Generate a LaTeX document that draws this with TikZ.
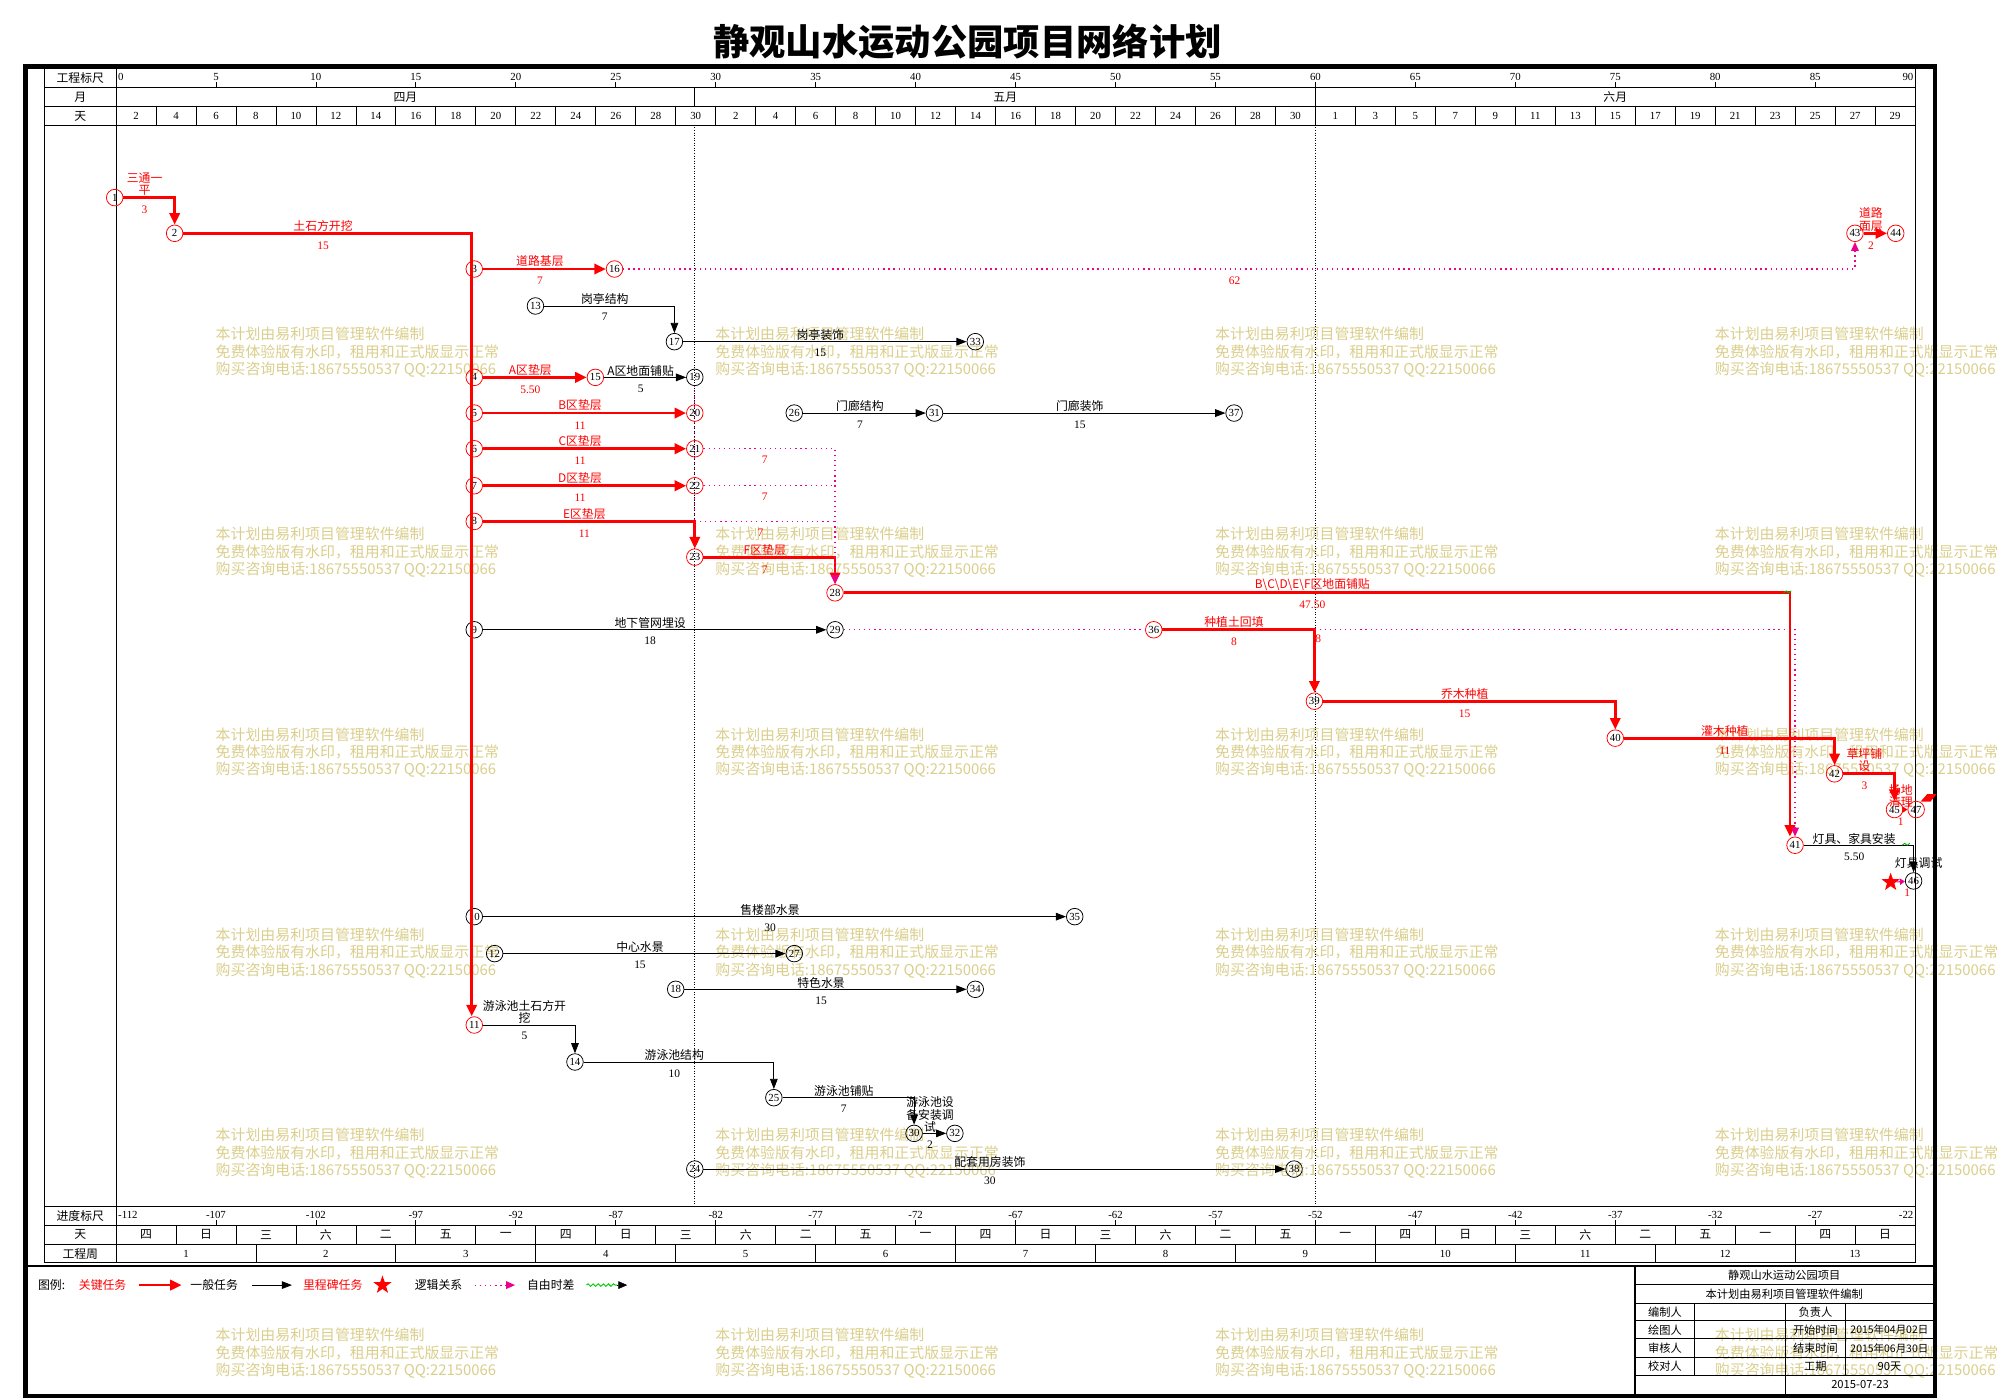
\documentclass[tikz,border=0pt]{standalone}
\usepackage{fontspec}
\setmainfont{Liberation Serif}
\newfontfamily\cjk{Noto Sans CJK SC}
\usetikzlibrary{arrows.meta,shapes.geometric,decorations.pathmorphing}
\definecolor{wmark}{RGB}{218,206,140}

\begin{document}
\begin{tikzpicture}[x=1pt, y=-1pt,
  ev/.style={circle, draw, line width=0.6pt, minimum size=13pt, inner sep=0pt, text=black, font=\fontsize{8.5}{8.5}\selectfont},
  evr/.style={ev, draw=red},
  crit/.style={red, line width=2.2pt, -{Triangle[length=9pt,width=8pt]}},
  gen/.style={black, line width=0.7pt, -{Triangle[length=8pt,width=6pt]}},
  lnk/.style={magenta, line width=0.9pt, dash pattern=on 1pt off 3pt},
  lnkt/.style={lnk, -{Triangle[length=7pt,width=6pt]}},
  lab/.style={above=0.5pt, xshift=-3.5pt, inner sep=0pt, align=center, font=\cjk\fontsize{9.3}{9.6}\selectfont},
  dur/.style={below=5.5pt, xshift=-3.5pt, inner sep=0pt, font=\fontsize{9}{9}\selectfont},
  hd/.style={inner sep=0pt, font=\cjk\fontsize{9.3}{9.3}\selectfont},
  sc/.style={inner sep=0pt, font=\fontsize{8.5}{8.5}\selectfont},
  tb/.style={inner sep=0pt, font=\cjk\fontsize{8.8}{8.8}\selectfont},
  wm/.style={anchor=west, inner sep=0pt, text=wmark, font=\cjk\fontsize{11.7}{11.7}\selectfont},
  mstone/.style={star, star points=5, star point ratio=2.5, fill=red, minimum size=15pt, inner sep=0pt}]

\useasboundingbox (0,0) rectangle (1568,1098);

\foreach \wx in {169,561,953,1345}
  \foreach \wy in {262,419,576,733,890,1047} {
    \node[wm] at (\wx,\wy) {本计划由易利项目管理软件编制};
    \node[wm] at (\wx,\wy+14) {免费体验版有水印，租用和正式版显示正常};
    \node[wm] at (\wx,\wy+28) {购买咨询电话:18675550537 QQ:22150066};
  }

\node[font=\cjk\bfseries\fontsize{28.5}{28.5}\selectfont, inner sep=0pt] (title) at (759,33) {静观山水运动公园项目网络计划};

\draw[line width=3.5pt] (20,52) rectangle (1517.6,1095);
\draw[line width=2.2pt] (20,993) -- (1517.6,993);
\draw[line width=0.6pt] (35,53) -- (35,990.5) (91,53) -- (91,990.5) (1502,53) -- (1502,990.5);
\foreach \y in {68.5,83.5,98,946,961,976,990.5}
  \draw[line width=0.6pt] (35,\y) -- (1502,\y);

\node[hd] (h1) at (63,61) {工程标尺};
\node[hd] (h2) at (63,76) {月};
\node[hd] (h3) at (63,91) {天};
\node[hd] (h4) at (63,953.5) {进度标尺};
\node[hd] (h5) at (63,968.5) {天};
\node[hd] (h6) at (63,983.5) {工程周};

\foreach \k in {0,...,18} {
  \draw[line width=0.6pt] ({91+78.4*\k},68.5) -- ({91+78.4*\k},64.5);
  \draw[line width=0.6pt] ({91+78.4*\k},961) -- ({91+78.4*\k},957);
}
\foreach \k in {1,...,17} {
  \pgfmathtruncatemacro\nn{5*\k}
  \pgfmathtruncatemacro\mm{5*\k-112}
  \node[sc] at ({91+78.4*\k},60.5) {\nn};
  \node[sc] at ({91+78.4*\k},953) {\mm};
}
\node[sc, anchor=west] at (92.5,60.5) {0};
\node[sc, anchor=east] at (1501,60.5) {90};
\node[sc, anchor=west] at (92.5,953) {-112};
\node[sc, anchor=east] at (1501,953) {-22};

\draw[line width=0.6pt] (545,68.5) -- (545,83.5) (1032,68.5) -- (1032,83.5);
\node[hd] (m4) at (318,76) {四月};
\node[hd] (m5) at (788.5,76) {五月};
\node[hd] (m6) at (1267,76) {六月};
\draw[line width=0.6pt, dash pattern=on 0.6pt off 1.4pt] (545,98) -- (545,946) (1032,98) -- (1032,946);

\foreach \j in {1,...,44}
  \draw[line width=0.6pt] ({91+31.36*\j},83.5) -- ({91+31.36*\j},98);
\foreach \j in {0,...,44} {
  \pgfmathtruncatemacro\dd{\j<15 ? 2*\j+2 : (\j<30 ? 2*\j-28 : 2*\j-59)}
  \node[sc] at ({106.68+31.36*\j},91) {\dd};
}

\foreach \j in {1,...,29}
  \draw[line width=0.6pt] ({91+47.04*\j},961) -- ({91+47.04*\j},976);
\foreach \w [count=\j from 0] in {四,日,三,六,二,五,一,四,日,三,六,二,五,一,四,日,三,六,二,五,一,四,日,三,六,二,五,一,四,日}
  \node[hd] at ({114.52+47.04*\j},968.5) {\w};
\foreach \j in {1,...,12} {
  \draw[line width=0.6pt] ({91+109.76*\j},976) -- ({91+109.76*\j},990.5);
  \node[sc] at ({36.12+109.76*\j},983.5) {\j};
}
\node[sc] at (1455,983.5) {13};

\node[evr] (n1) at (90,155) {1};
\node[evr] (n2) at (137,183) {2};
\node[evr] (n3) at (372,211) {3};
\node[evr] (n16) at (482,211) {16};
\node[evr] (n43) at (1455,183) {43};
\node[evr] (n44) at (1487,183) {44};
\node[ev] (n13) at (420,240) {13};
\node[ev] (n17) at (529,268) {17};
\node[ev] (n33) at (765,268) {33};
\node[evr] (n4) at (372,296) {4};
\node[evr] (n15) at (467,296) {15};
\node[ev] (n19) at (545,296) {19};
\node[evr] (n5) at (372,324) {5};
\node[evr] (n20) at (545,324) {20};
\node[ev] (n26) at (623,324) {26};
\node[ev] (n31) at (733,324) {31};
\node[ev] (n37) at (968,324) {37};
\node[evr] (n6) at (372,352) {6};
\node[evr] (n21) at (545,352) {21};
\node[evr] (n7) at (372,381) {7};
\node[evr] (n22) at (545,381) {22};
\node[evr] (n8) at (372,409) {8};
\node[evr] (n23) at (545,437) {23};
\node[evr] (n28) at (655,465) {28};
\node[ev] (n9) at (372,494) {9};
\node[ev] (n29) at (655,494) {29};
\node[evr] (n36) at (905,494) {36};
\node[evr] (n39) at (1031,550) {39};
\node[evr] (n40) at (1267,579) {40};
\node[evr] (n42) at (1439,607) {42};
\node[evr] (n45) at (1486,635) {45};
\node[evr] (n47) at (1503,635) {47};
\node[evr] (n41) at (1408,663) {41};
\node[ev] (n46) at (1501,691) {46};
\node[ev] (n10) at (372,719) {10};
\node[ev] (n35) at (843,719) {35};
\node[ev] (n12) at (388,748) {12};
\node[ev] (n27) at (623,748) {27};
\node[ev] (n18) at (530,776) {18};
\node[ev] (n34) at (765,776) {34};
\node[evr] (n11) at (372,804) {11};
\node[ev] (n14) at (451,833) {14};
\node[ev] (n25) at (607,861) {25};
\node[ev] (n30) at (717,889) {30};
\node[ev] (n32) at (749,889) {32};
\node[ev] (n24) at (545,917) {24};
\node[ev] (n38) at (1015,917) {38};

\coordinate (k2) at (370,183);
\coordinate (k28) at (1404,465);

\draw[crit] (n1) -- node[lab]{三通一\\平} node[dur]{3} (n1 -| n2) -- (n2);
\draw[crit] (n2) -- node[lab]{土石方开挖} node[dur]{15} (k2) -- (k2 |- n11.north);
\draw[crit] (n3) -- node[lab]{道路基层} node[dur]{7} (n16);
\draw[crit] (n43) -- node[lab]{道路\\面层} node[dur]{2} (n44);
\draw[crit] (n4) -- node[lab]{A区垫层} node[dur]{5.50} (n15);
\draw[crit] (n5) -- node[lab]{B区垫层} node[dur]{11} (n20);
\draw[crit] (n6) -- node[lab]{C区垫层} node[dur]{11} (n21);
\draw[crit] (n7) -- node[lab]{D区垫层} node[dur]{11} (n22);
\draw[crit] (n8) -- node[lab]{E区垫层} node[dur]{11} (n8 -| n23) -- (n23);
\draw[crit] (n23) -- node[lab]{F区垫层} node[dur]{7} (n23 -| n28) -- (n28);
\draw[crit] (n28) -- node[lab]{B\textbackslash C\textbackslash D\textbackslash E\textbackslash F区地面铺贴} node[dur]{47.50} (k28) -- (k28 |- n41.north);
\draw[crit] (n36) -- node[lab]{种植土回填} node[dur]{8} (n36 -| n39) -- (n39);
\draw[crit] (n39) -- node[lab]{乔木种植} node[dur]{15} (n39 -| n40) -- (n40);
\draw[crit] (n40) -- node[lab]{灌木种植} node[dur]{11} (n40 -| n42) -- (n42);
\draw[crit] (n42) -- node[lab]{草坪铺\\设} node[dur]{3} (n42 -| n45) -- (n45);
\draw[crit, -{Triangle[length=4pt,width=5pt]}] (n45) -- node[lab]{场地\\清理} node[dur]{1} (n47);

\draw[gen] (n13) -- node[lab]{岗亭结构} node[dur]{7} (n13 -| n17) -- (n17);
\draw[gen] (n17) -- node[lab]{岗亭装饰} node[dur]{15} (n33);
\draw[gen] (n15) -- node[lab]{A区地面铺贴} node[dur]{5} (n19);
\draw[gen] (n26) -- node[lab]{门廊结构} node[dur]{7} (n31);
\draw[gen] (n31) -- node[lab]{门廊装饰} node[dur]{15} (n37);
\draw[gen] (n9) -- node[lab]{地下管网埋设} node[dur]{18} (n29);
\draw[gen] (n41) -- node[lab]{灯具、家具安装} node[dur]{5.50} (n41 -| n46) -- (n46);
\draw[gen] (n10) -- node[lab]{售楼部水景} node[dur]{30} (n35);
\draw[gen] (n12) -- node[lab]{中心水景} node[dur]{15} (n27);
\draw[gen] (n18) -- node[lab]{特色水景} node[dur]{15} (n34);
\draw[gen] (n11) -- node[lab]{游泳池土石方开\\挖} node[dur]{5} (n11 -| n14) -- (n14);
\draw[gen] (n14) -- node[lab]{游泳池结构} node[dur]{10} (n14 -| n25) -- (n25);
\draw[gen] (n25) -- node[lab]{游泳池铺贴} node[dur]{7} (n25 -| n30) -- (n30);
\draw[gen] (n30) -- node[lab]{游泳池设\\备安装调\\试} node[dur]{2} (n32);
\draw[gen] (n24) -- node[lab]{配套用房装饰} node[dur]{30} (n38);

\draw[lnkt] (n16) -- node[dur, text=red]{62} (n16 -| n43) -- (n43);
\draw[lnk] (n19) -- (n23);
\draw[lnkt] (n21) -- node[dur, text=red]{7} (n21 -| n28) -- (n28);
\draw[lnk] (n22) -- node[dur, text=red]{7} (n22 -| n28);
\draw[lnk] (n8 -| n23) -- node[dur, text=red]{7} (n8 -| n28);
\draw[lnk] (n29) -- (n36);
\draw[lnkt] (n36 -| n39) -- (n36 -| n41) -- (n41);
\node[sc, text=red, font=\fontsize{9}{9}\selectfont] (f8) at (1034,501) {8};

\node[mstone] (ms) at (1483,692) {};
\draw[magenta, line width=0.8pt, -{Triangle[length=4pt,width=5pt]}] (ms) -- (n46);
\node[hd] (t46) at (1505,677) {灯具调试};
\node[sc, text=red, font=\fontsize{9}{9}\selectfont] (d46) at (1496,700) {1};
\fill[red] (1506.5,628.7) -- (1511.7,622.9) -- (1519,622.9) -- (1514.3,628.7) -- cycle;
\draw[green!70!black, line width=0.7pt] (1399,465) -- (1401,463.5) -- (1403,465) -- (1405,463.5);
\draw[green!70!black, line width=0.7pt] (1492,663) -- (1494,661.5) -- (1496,663) -- (1498,661.5);

\node[hd] (lg0) at (40.5,1008) {图例:};
\node[hd, text=red] (lg1) at (80.5,1008) {关键任务};
\draw[crit] (109,1008) -- (142.5,1008);
\node[hd] (lg2) at (168,1008) {一般任务};
\draw[gen] (197.5,1008) -- (229,1008);
\node[hd, text=red] (lg3) at (261,1008) {里程碑任务};
\node[mstone] (lg4) at (300,1008) {};
\node[hd] (lg5) at (344,1008) {逻辑关系};
\draw[lnkt] (372.5,1008) -- (404,1008);
\node[hd] (lg6) at (432,1008) {自由时差};
\draw[green!80!black, line width=0.7pt, decorate, decoration={snake, amplitude=1pt, segment length=4pt}] (460,1008) -- (484,1008);
\draw[-{Triangle[length=7pt,width=6pt]}] (484,1008) -- (492,1008);

\draw[line width=1pt] (1282.4,993) -- (1282.4,1095);
\foreach \y in {1007.8,1022.2,1036,1050.2,1064.6,1079}
  \draw[line width=0.8pt] (1282.4,\y) -- (1517,\y);
\draw[line width=0.8pt] (1329.4,1022.2) -- (1329.4,1079) (1400.5,1022.2) -- (1400.5,1095) (1447.5,1022.2) -- (1447.5,1079);
\node[tb] (tb1) at (1399.5,1000.6) {静观山水运动公园项目};
\node[tb] (tb2) at (1399.5,1015) {本计划由易利项目管理软件编制};
\node[tb] (tb3) at (1306,1029.1) {编制人};
\node[tb] (tb4) at (1424,1029.1) {负责人};
\node[tb] (tb5) at (1306,1043.1) {绘图人};
\node[tb] (tb6) at (1424,1043.1) {开始时间};
\node[tb, font=\cjk\fontsize{8.2}{8.2}\selectfont] (tb7) at (1482,1043.1) {2015年04月02日};
\node[tb] (tb8) at (1306,1057.4) {审核人};
\node[tb] (tb9) at (1424,1057.4) {结束时间};
\node[tb, font=\cjk\fontsize{8.2}{8.2}\selectfont] (tb10) at (1482,1057.4) {2015年06月30日};
\node[tb] (tb11) at (1306,1071.8) {校对人};
\node[tb] (tb12) at (1424,1071.8) {工期};
\node[tb] (tb13) at (1482,1071.8) {90天};
\node[tb] (tb14) at (1459,1086) {2015-07-23};

\end{tikzpicture}
\end{document}
